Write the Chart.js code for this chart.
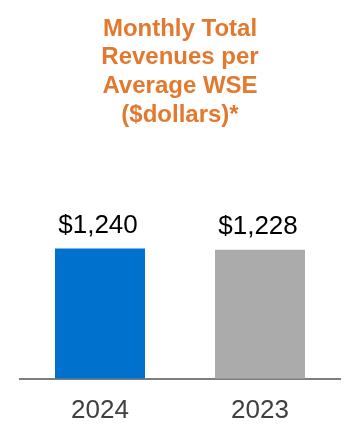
<!DOCTYPE html>
<html>
<head>
<meta charset="utf-8">
<script src="https://cdn.jsdelivr.net/npm/chart.js@4/dist/chart.umd.min.js"></script>
<style>
  html, body { margin: 0; padding: 0; background: #fff; }
  #wrap { width: 360px; height: 446px; position: relative; }
</style>
</head>
<body>
<div id="wrap"><canvas id="c"></canvas></div>
<script>
const categories = ["2024", "2023"];
const values = [1240, 1228];
const valueLabels = ["$1,240", "$1,228"];
const barColors = ["#0072CE", "#ABABAB"];
const titleLines = ["Monthly Total", "Revenues per", "Average WSE", "($dollars)*"];

const valueLabelPlugin = {
  id: "valueLabels",
  afterDatasetsDraw(chart) {
    const ctx = chart.ctx;
    const meta = chart.getDatasetMeta(0);
    ctx.save();
    ctx.font = "26px 'Liberation Sans', Arial, sans-serif";
    ctx.fillStyle = "#000000";
    ctx.textAlign = "center";
    ctx.textBaseline = "alphabetic";
    meta.data.forEach((bar, i) => {
      ctx.fillText(valueLabels[i], bar.x - 2, bar.y - 16);
    });
    ctx.restore();
  }
};

new Chart(document.getElementById("c"), {
  type: "bar",
  data: {
    labels: categories,
    datasets: [{
      data: values,
      backgroundColor: barColors,
      borderWidth: 0,
      categoryPercentage: 1,
      barPercentage: 0.5625
    }]
  },
  options: {
    responsive: true,
    maintainAspectRatio: false,
    animation: false,
    layout: { padding: { left: 20, right: 20, top: 0, bottom: 4 } },
    plugins: {
      legend: { display: false },
      tooltip: { enabled: false },
      title: {
        display: true,
        text: titleLines,
        color: "#E2792E",
        font: { family: "'Liberation Sans', Arial, sans-serif", size: 24, weight: "bold", lineHeight: 1.19 },
        padding: { top: 15, bottom: 10 }
      }
    },
    scales: {
      x: {
        grid: { display: false, drawTicks: false },
        border: { display: true, color: "#7F7F7F", width: 2 },
        ticks: {
          color: "#404040",
          font: { family: "'Liberation Sans', Arial, sans-serif", size: 26 },
          padding: 16
        }
      },
      y: {
        display: false,
        min: 0,
        max: 2280
      }
    }
  },
  plugins: [valueLabelPlugin]
});
</script>
</body>
</html>
